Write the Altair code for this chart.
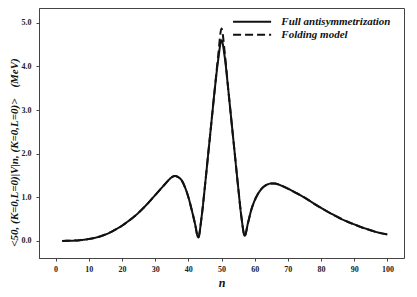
import altair as alt
import pandas as pd

n_vals = [2, 4, 6, 8, 10, 12, 14, 16, 18, 20, 22, 24, 26, 28, 30, 32, 34, 35, 36, 37,
          38, 39, 40, 41, 42, 43, 44, 45, 46, 47, 48, 49, 50, 51, 52, 53, 54, 55, 56, 57,
          58, 59, 60, 61, 62, 63, 64, 65, 66, 67, 68, 70, 72, 74, 76, 78, 80, 82, 84, 86,
          88, 90, 92, 94, 96, 98, 100]
full_vals = [0.00, 0.005, 0.01, 0.025, 0.045, 0.075, 0.12, 0.18, 0.26, 0.35, 0.46, 0.58, 0.72, 0.88, 1.05, 1.22, 1.39, 1.46, 1.49, 1.46,
             1.39, 1.23, 1.01, 0.72, 0.40, 0.08, 0.55, 1.25, 2.0, 2.75, 3.5, 4.15, 4.6, 4.2, 3.5, 2.75, 2.0, 1.25, 0.55, 0.12,
             0.42, 0.72, 0.93, 1.08, 1.19, 1.26, 1.30, 1.32, 1.32, 1.30, 1.27, 1.20, 1.12, 1.04, 0.95, 0.85, 0.76, 0.67, 0.59, 0.51,
             0.44, 0.38, 0.32, 0.27, 0.22, 0.18, 0.15]
fold_vals = [0.00, 0.005, 0.01, 0.025, 0.045, 0.075, 0.12, 0.18, 0.26, 0.35, 0.46, 0.58, 0.72, 0.88, 1.05, 1.22, 1.39, 1.46, 1.49, 1.46,
             1.39, 1.23, 1.01, 0.72, 0.40, 0.08, 0.55, 1.25, 2.0, 2.75, 3.5, 4.25, 4.87, 4.3, 3.5, 2.75, 2.0, 1.25, 0.55, 0.12,
             0.42, 0.72, 0.93, 1.08, 1.19, 1.26, 1.30, 1.32, 1.32, 1.30, 1.27, 1.20, 1.12, 1.04, 0.95, 0.85, 0.76, 0.67, 0.59, 0.51,
             0.44, 0.38, 0.32, 0.27, 0.22, 0.18, 0.15]
series_names = ["Full antisymmetrization", "Folding model"]
x_ticks = [0, 10, 20, 30, 40, 50, 60, 70, 80, 90, 100]
y_ticks = [0.0, 1.0, 2.0, 3.0, 4.0, 5.0]

rows = []
for n, v in zip(n_vals, full_vals):
    rows.append({"n": n, "v": v, "s": series_names[0]})
for n, v in zip(n_vals, fold_vals):
    rows.append({"n": n, "v": v, "s": series_names[1]})
df = pd.DataFrame(rows)

serif = "Liberation Serif"

chart = alt.Chart(df).mark_line(strokeWidth=2, interpolate="monotone").encode(
    x=alt.X("n:Q", scale=alt.Scale(domain=[-5, 105], nice=False, zero=False),
            axis=alt.Axis(values=x_ticks, title="n", grid=False, format="d",
                          tickSize=3, labelPadding=4, labelFontSize=8, labelFontWeight="bold",
                          labelFont=serif, labelColor="#222",
                          titleFont=serif, titleFontStyle="italic", titleFontWeight="bold",
                          titleFontSize=12, titleY=28, titleBaseline="alphabetic", titleColor="#111",
                          domainColor="#444", tickColor="#444")),
    y=alt.Y("v:Q", scale=alt.Scale(domain=[-0.39, 5.34], nice=False, zero=False),
            axis=alt.Axis(values=y_ticks, format=".1f", grid=False,
                          title="<50, (K=0,L=0)|V|n, (K=0,L=0)>\u00a0\u00a0\u00a0\u00a0(MeV)",
                          tickSize=3, labelPadding=5, labelFontSize=8, labelFontWeight="bold",
                          labelFont=serif, labelColor="#222",
                          titleFont=serif, titleFontStyle="italic", titleFontWeight="bold",
                          titleFontSize=11, titleX=-25, titleY=144, titleAlign="center",
                          titleBaseline="middle", titleAngle=270, titleColor="#111",
                          domainColor="#444", tickColor="#444")),
    color=alt.Color("s:N", scale=alt.Scale(domain=series_names, range=["#111", "#111"]),
                    legend=alt.Legend(orient="none", legendX=205.6, legendY=6.3, title=None,
                                      symbolType="M-3,0H3", symbolSize=161, symbolStrokeWidth=2,
                                      labelFont=serif, labelFontStyle="italic", labelFontWeight="bold",
                                      labelFontSize=11, labelColor="#111", padding=0,
                                      rowPadding=0, labelOffset=21.7)),
    strokeDash=alt.StrokeDash("s:N", scale=alt.Scale(domain=series_names, range=[[1, 0], [8, 4]]),
                              legend=None),
).properties(
    width=365, height=250,
    autosize=alt.AutoSizeParams(type="none"),
    padding={"left": 31, "top": 0, "right": 5, "bottom": 31},
).configure_view(stroke="#444", strokeWidth=1)

chart.save("out.html", embed_options={"renderer": "svg", "actions": False})
